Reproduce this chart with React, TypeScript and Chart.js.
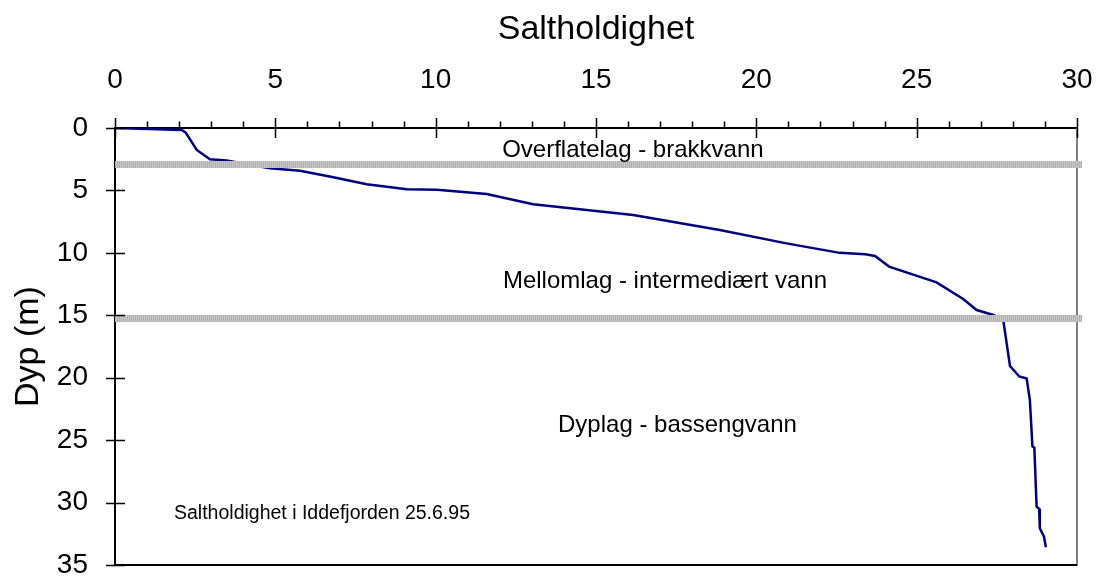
import React, { useEffect, useRef } from 'react';
import { Chart, registerables } from 'chart.js';

Chart.register(...registerables);

// Salinity profile (salinity, depth in m)
const salinity = [
  0, 2.08, 2.2, 2.55, 2.96, 3.48, 4.83, 5.77, 6.81, 7.85, 9.1, 10.03, 10.13, 11.59,
  13.04, 16.16, 18.86, 20.94, 22.6, 23.4, 23.7, 24.14, 25.62, 26.45, 26.87, 27.39,
  27.7, 27.91, 28.2, 28.43, 28.53, 28.61, 28.67, 28.74, 28.82, 28.84, 28.97, 29.03,
];
const depth = [
  0, 0.16, 0.35, 1.76, 2.5, 2.6, 3.23, 3.42, 3.95, 4.5, 4.9, 4.95, 4.97, 5.29,
  6.1, 6.97, 8.17, 9.24, 10.0, 10.12, 10.25, 11.1, 12.36, 13.7, 14.58, 14.98,
  15.38, 19.06, 19.9, 20.07, 21.78, 25.5, 25.6, 30.33, 30.5, 32.06, 32.73, 33.58,
];

const xTitle = 'Saltholdighet';
const yTitle = 'Dyp (m)';
const layerBoundaries = [2.9, 15.2];
const layerLabels = ['Overflatelag - brakkvann', 'Mellomlag - intermediært vann', 'Dyplag - bassengvann'];
const layerLabelSalinity = [16.15, 17.15, 17.54];
const layerLabelDepth = [2.3, 12.8, 24.32];
const noteText = 'Saltholdighet i Iddefjorden 25.6.95';
const noteSalinity = 1.84;
const noteDepth = 31.28;

const FONT = "'Liberation Sans', Arial, sans-serif";

const overlay = {
  id: 'overlay',
  beforeDatasetsDraw(chart: any) {
    const { ctx, chartArea: a } = chart;
    ctx.save();
    ctx.strokeStyle = '#808080';
    ctx.lineWidth = 2;
    ctx.beginPath();
    ctx.moveTo(a.right, a.top);
    ctx.lineTo(a.right, a.bottom + 1);
    ctx.stroke();
    ctx.strokeStyle = '#000000';
    ctx.beginPath();
    ctx.moveTo(a.left, a.bottom);
    ctx.lineTo(a.right, a.bottom);
    ctx.stroke();
    ctx.restore();
  },
  afterDatasetsDraw(chart: any) {
    const { ctx, chartArea: a, scales } = chart;
    const x = scales.x;
    const y = scales.y;
    ctx.save();
    for (const d of layerBoundaries) {
      const py = Math.round(y.getPixelForValue(d));
      ctx.fillStyle = '#c8c8c8';
      ctx.fillRect(a.left, py - 3, a.right - a.left + 5, 7);
      ctx.fillStyle = '#b0b0b0';
      for (let px = a.left; px < a.right + 5; px += 2) ctx.fillRect(px, py - 3, 1, 7);
    }
    ctx.fillStyle = '#000000';
    ctx.textBaseline = 'alphabetic';
    ctx.font = `24px ${FONT}`;
    ctx.textAlign = 'center';
    layerLabels.forEach((t, i) => {
      ctx.fillText(t, x.getPixelForValue(layerLabelSalinity[i]), y.getPixelForValue(layerLabelDepth[i]));
    });
    ctx.font = `19.5px ${FONT}`;
    ctx.textAlign = 'left';
    ctx.fillText(noteText, x.getPixelForValue(noteSalinity), y.getPixelForValue(noteDepth));

    // tick marks
    ctx.strokeStyle = '#000000';
    ctx.lineWidth = 1.5;
    ctx.beginPath();
    for (let v = 0; v <= 30; v++) {
      const px = Math.round(x.getPixelForValue(v)) + 0.5;
      if (v % 5 === 0) {
        ctx.moveTo(px, a.top - 10);
        ctx.lineTo(px, a.top + 10);
      } else {
        ctx.moveTo(px, a.top - 6.5);
        ctx.lineTo(px, a.top);
      }
    }
    for (let v = 0; v <= 35; v += 5) {
      const py = Math.round(y.getPixelForValue(v)) + 0.5;
      ctx.moveTo(a.left - 9, py);
      ctx.lineTo(a.left + 10, py);
    }
    ctx.stroke();
    ctx.restore();
  },
};

export default function App() {
  const ref = useRef<HTMLCanvasElement>(null);
  useEffect(() => {
    if (!ref.current) return;
    const points = salinity.map((s, i) => ({ x: s, y: depth[i] }));
    const chart = new Chart(ref.current, {
      type: 'scatter',
      data: {
        datasets: [
          {
            data: points,
            showLine: true,
            borderColor: '#000080',
            backgroundColor: '#000080',
            borderWidth: 2.5,
            pointRadius: 0,
            tension: 0,
          },
        ],
      },
      plugins: [overlay],
      options: {
        responsive: false,
        animation: false,
        layout: { padding: { left: 0, top: 0, right: 19, bottom: 11 } },
        plugins: { legend: { display: false }, tooltip: { enabled: false } },
        scales: {
          x: {
            type: 'linear',
            position: 'top',
            min: 0,
            max: 30,
            ticks: {
              stepSize: 5,
              padding: 34,
              color: '#000',
              font: { family: FONT, size: 28, lineHeight: 1 },
              maxRotation: 0,
            },
            grid: { drawOnChartArea: false, drawTicks: false },
            border: { display: true, color: '#000', width: 2 },
            title: {
              display: true,
              text: xTitle,
              color: '#000',
              font: { family: FONT, size: 34, lineHeight: 1 },
              padding: { top: 13, bottom: 0 },
            },
            afterFit: (s: any) => {
              s.height = 128;
              s.paddingLeft = 0;
              s.paddingRight = 0;
              s.paddingTop = 0;
              s.paddingBottom = 0;
            },
          },
          y: {
            type: 'linear',
            position: 'left',
            reverse: true,
            min: 0,
            max: 35,
            ticks: {
              stepSize: 5,
              padding: 27,
              color: '#000',
              font: { family: FONT, size: 28, lineHeight: 1 },
            },
            grid: { drawOnChartArea: false, drawTicks: false },
            border: { display: true, color: '#000', width: 2 },
            title: {
              display: true,
              text: yTitle,
              color: '#000',
              font: { family: FONT, size: 34, lineHeight: 1 },
              padding: { top: 12, bottom: 0 },
            },
            afterFit: (s: any) => {
              s.width = 115;
              s.paddingLeft = 0;
              s.paddingRight = 0;
              s.paddingTop = 0;
              s.paddingBottom = 0;
            },
          },
        },
      },
    });
    return () => chart.destroy();
  }, []);
  return (
    <div style={{ position: 'absolute', left: 0, top: 0, width: 1096, height: 576, background: '#fff' }}>
      <canvas ref={ref} width={1096} height={576} style={{ display: 'block' }} />
    </div>
  );
}
